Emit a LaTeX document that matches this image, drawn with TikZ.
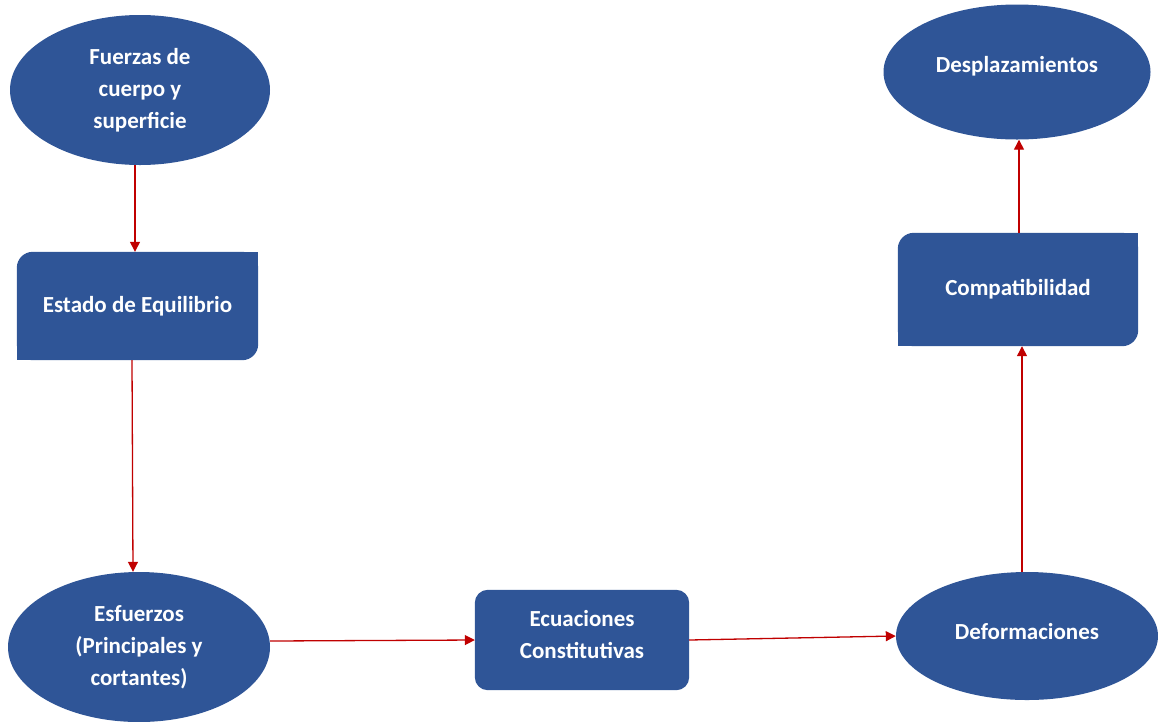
\documentclass[tikz,border=0pt]{standalone}
\usepackage{fontspec}
\setmainfont{Carlito}
\usetikzlibrary{shapes.geometric,arrows.meta,calc}
\definecolor{boxblue}{HTML}{2F5597}
\definecolor{arrred}{HTML}{C00000}
\tikzset{
  txt/.style={text=white,font=\bfseries\fontsize{23}{32}\selectfont,align=center},
  ell/.style={ellipse,fill=boxblue,inner sep=0pt,txt},
  boxn/.style={rectangle,inner sep=0pt,txt},
  conn/.style={draw=arrred,line width=1.3pt,-{Triangle[length=10pt,width=10pt]}}
}
\begin{document}
\begin{tikzpicture}[x=1pt,y=1pt]
\useasboundingbox (0,0) rectangle (1158,-721);
% ellipses
\node[ell,minimum width=260,minimum height=150] (f) at (140,-90) {Fuerzas de\\cuerpo y\\superficie};
\node[ell,minimum width=267,minimum height=135] (d) at (1017,-72) {};
\node[txt] (dt) at ($(d)+(0,6)$) {Desplazamientos};
\node[ell,minimum width=262,minimum height=150] (s) at (139,-647) {Esfuerzos\\(Principales y\\cortantes)};
\node[ell,minimum width=262,minimum height=128] (df) at (1027,-636) {};
\node[txt] (dft) at ($(df)+(0,4)$) {Deformaciones};
% boxes with diagonal rounded corners
\node[boxn,minimum width=241,minimum height=108] (e) at (137.5,-306) {};
\fill[boxblue,rounded corners=16pt] (e.north west) rectangle (e.south east);
\fill[boxblue] (e.north east) rectangle ($(e.north east)+(-30,-30)$);
\fill[boxblue] (e.south west) rectangle ($(e.south west)+(30,30)$);
\node[txt] (et) at (e) {Estado de Equilibrio};
\node[boxn,minimum width=240,minimum height=113] (c) at (1018,-289.5) {};
\fill[boxblue,rounded corners=16pt] (c.north west) rectangle (c.south east);
\fill[boxblue] (c.north east) rectangle ($(c.north east)+(-30,-30)$);
\fill[boxblue] (c.south west) rectangle ($(c.south west)+(30,30)$);
\node[txt] (ct) at (c) {Compatibilidad};
\node[boxn,minimum width=214,minimum height=100] (q) at (582,-640) {};
\fill[boxblue,rounded corners=13pt] (q.north west) rectangle (q.south east);
\node[txt] (qt) at ($(q)+(0,5)$) {Ecuaciones\\Constitutivas};
% connectors
\draw[conn] ($(f.south)+(-5,0)$) -- ($(e.north)+(-2.5,0)$);
\draw[conn] ($(e.south)+(-5.5,0)$) -- ($(s.north)+(-6,0)$);
\draw[conn] ($(s.east)+(0,6)$) -- (q.west);
\draw[conn] (q.east) -- (df.west);
\draw[conn] ($(df.north)+(-5,0)$) -- ($(c.south)+(4,0)$);
\draw[conn] ($(c.north)+(1,0)$) -- ($(d.south)+(2,0)$);
\end{tikzpicture}
\end{document}
